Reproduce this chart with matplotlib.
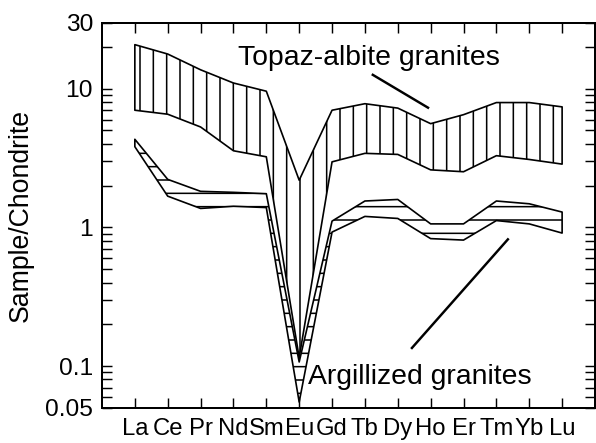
import matplotlib
matplotlib.use("Agg")
import matplotlib.pyplot as plt
import numpy as np

elements = ["La", "Ce", "Pr", "Nd", "Sm", "Eu", "Gd", "Tb", "Dy", "Ho", "Er", "Tm", "Yb", "Lu"]

topaz_upper = [20.8, 17.8, 13.7, 11.0, 9.6, 2.19, 7.0, 7.8, 7.25, 5.6, 6.5, 7.95, 7.95, 7.4]
topaz_lower = [7.0, 6.55, 5.3, 3.57, 3.23, 0.115, 2.97, 3.42, 3.36, 2.6, 2.52, 3.29, 3.09, 2.86]

argil_upper = [4.32, 2.22, 1.82, 1.79, 1.75, 0.107, 1.11, 1.55, 1.59, 1.06, 1.06, 1.55, 1.48, 1.29]
argil_lower = [3.82, 1.68, 1.37, 1.42, 1.39, 0.055, 0.925, 1.20, 1.16, 0.83, 0.81, 1.12, 1.06, 0.91]

yticks = [0.05, 0.1, 1, 10, 30]
yticklabels = ["0.05", "0.1", "1", "10", "30"]

plt.rcParams['font.family'] = ['Liberation Sans', 'DejaVu Sans']
plt.rcParams['hatch.linewidth'] = 1.4

DPI = 80
fig = plt.figure(figsize=(596 / DPI, 443 / DPI), dpi=DPI)
ax = fig.add_axes([0.1711, 0.0795, 0.9983 - 0.1711, 0.949 - 0.0795])

x = np.arange(1, len(elements) + 1)

ax.fill_between(x, topaz_lower, topaz_upper, facecolor='none', edgecolor='black',
                hatch='|', linewidth=1.5)
ax.fill_between(x, argil_lower, argil_upper, facecolor='none', edgecolor='black',
                hatch='-', linewidth=1.5)

ax.set_yscale('log')
ax.set_xlim(0, 15)
ax.set_ylim(0.05, 30)

ax.set_xticks(x)
ax.set_xticklabels(elements, fontsize=21.5)
ax.set_yticks(yticks)
ax.set_yticklabels(yticklabels, fontsize=22)
minor = [v * 10.0 ** d for d in (-2, -1, 0, 1) for v in range(2, 10)]
minor = [m for m in minor if 0.05 < m < 30]
ax.set_yticks(minor, minor=True)
ax.yaxis.set_minor_formatter(matplotlib.ticker.NullFormatter())

ax.tick_params(axis='both', which='both', direction='in', top=True, right=True,
               length=9, width=1.3)
ax.tick_params(axis='x', pad=9)
ax.tick_params(axis='y', pad=8)
for s in ax.spines.values():
    s.set_linewidth(1.8)

ax.set_ylabel("Sample/Chondrite", fontsize=24, labelpad=10)

ax.text(4.14, 16.7, "Topaz-albite granites", fontsize=25.5, ha='left', va='center')
ax.plot([8.24, 9.92], [12.6, 7.3], color='black', linewidth=2.2)
ax.text(6.27, 0.0833, "Argillized granites", fontsize=25.5, ha='left', va='center')
ax.plot([9.43, 12.35], [0.135, 0.82], color='black', linewidth=2.2)

fig.savefig("out.png", dpi=DPI)
